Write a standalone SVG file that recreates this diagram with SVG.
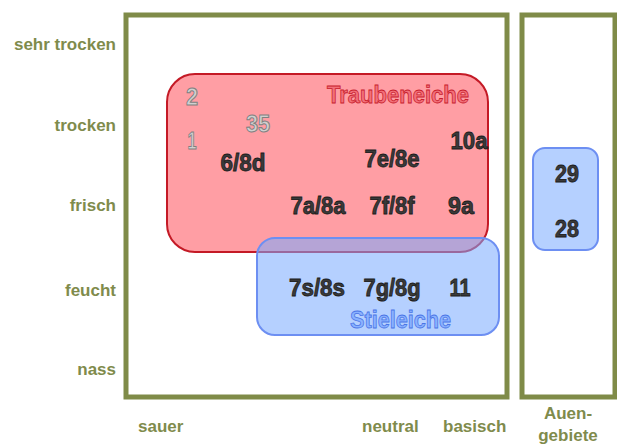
<svg xmlns="http://www.w3.org/2000/svg" width="617" height="446" viewBox="0 0 617 446">
  <style>
    .frame { fill: none; stroke: #7f8b48; stroke-width: 5; }
    .axis { font-family: "Liberation Sans", Arial, sans-serif; font-weight: bold; font-size: 17px; fill: #7f8b4c; }
    .num { font-family: "Liberation Sans", Arial, sans-serif; font-weight: bold; font-size: 24px; fill: #3a3a3a; stroke: #1a1a1a; stroke-width: 0.8; text-anchor: middle; }
    .old { font-family: "Liberation Sans", Arial, sans-serif; font-weight: bold; font-size: 24px; fill: #d0d0d0; stroke: #808080; stroke-width: 1; text-anchor: middle; }
    .red-label { font-family: "Liberation Sans", Arial, sans-serif; font-weight: bold; font-size: 24px; fill: #f2707a; stroke: #c8202c; stroke-width: 0.8; }
    .blue-label { font-family: "Liberation Sans", Arial, sans-serif; font-weight: bold; font-size: 24px; fill: #8ab2ff; stroke: #4a74e6; stroke-width: 0.8; }
  </style>

  <rect width="617" height="446" fill="#ffffff"/>

  <!-- moisture axis -->
  <g id="moisture-axis" class="axis" text-anchor="end">
    <text x="116" y="50">sehr trocken</text>
    <text x="116" y="131">trocken</text>
    <text x="116" y="211">frisch</text>
    <text x="116" y="296">feucht</text>
    <text x="116" y="375">nass</text>
  </g>

  <!-- soil reaction axis -->
  <g id="ph-axis" class="axis">
    <text x="138" y="432">sauer</text>
    <text x="362" y="432">neutral</text>
    <text x="443" y="432">basisch</text>
    <text x="568" y="419" text-anchor="middle">Auen-</text>
    <text x="568" y="441" text-anchor="middle">gebiete</text>
  </g>

  <!-- site frames -->
  <g id="frame-main">
    <rect class="frame" x="126" y="15" width="381" height="382"/>
  </g>
  <g id="frame-auen">
    <rect class="frame" x="522" y="15" width="93" height="382"/>
  </g>

  <!-- sessile oak range -->
  <g id="traubeneiche">
    <rect x="167" y="74" width="321" height="178" rx="28" ry="28" fill="#ff9ea4" stroke="#c41a26" stroke-width="2"/>
    <text class="red-label" x="327" y="103" textLength="142" lengthAdjust="spacingAndGlyphs">Traubeneiche</text>
  </g>

  <!-- pedunculate oak range -->
  <g id="stieleiche">
    <rect x="257" y="238" width="242" height="97" rx="18" ry="18" fill="#78aaff" fill-opacity="0.55" stroke="#6d8ff2" stroke-width="2"/>
    <text class="blue-label" x="350" y="328" textLength="101" lengthAdjust="spacingAndGlyphs">Stieleiche</text>
  </g>

  <!-- floodplain range -->
  <g id="auen-eiche">
    <rect x="533" y="148" width="65" height="102" rx="12" ry="12" fill="#78aaff" fill-opacity="0.55" stroke="#6d8ff2" stroke-width="2"/>
  </g>

  <!-- site type codes -->
  <g id="codes-old">
    <text class="old" x="192" y="105" textLength="12" lengthAdjust="spacingAndGlyphs">2</text>
    <text class="old" x="258" y="132" textLength="24" lengthAdjust="spacingAndGlyphs">35</text>
    <text class="old" x="192" y="149" textLength="9" lengthAdjust="spacingAndGlyphs">1</text>
  </g>
  <g id="codes">
    <text class="num" x="243" y="171" textLength="45" lengthAdjust="spacingAndGlyphs">6/8d</text>
    <text class="num" x="392" y="167" textLength="55" lengthAdjust="spacingAndGlyphs">7e/8e</text>
    <text class="num" x="469" y="149" textLength="37" lengthAdjust="spacingAndGlyphs">10a</text>
    <text class="num" x="318" y="214" textLength="55" lengthAdjust="spacingAndGlyphs">7a/8a</text>
    <text class="num" x="392" y="214" textLength="45" lengthAdjust="spacingAndGlyphs">7f/8f</text>
    <text class="num" x="461" y="214" textLength="26" lengthAdjust="spacingAndGlyphs">9a</text>
    <text class="num" x="317" y="296" textLength="56" lengthAdjust="spacingAndGlyphs">7s/8s</text>
    <text class="num" x="392" y="296" textLength="57" lengthAdjust="spacingAndGlyphs">7g/8g</text>
    <text class="num" x="460" y="296" textLength="21" lengthAdjust="spacingAndGlyphs">11</text>
    <text class="num" x="567" y="182" textLength="24" lengthAdjust="spacingAndGlyphs">29</text>
    <text class="num" x="567" y="237" textLength="24" lengthAdjust="spacingAndGlyphs">28</text>
  </g>
</svg>
